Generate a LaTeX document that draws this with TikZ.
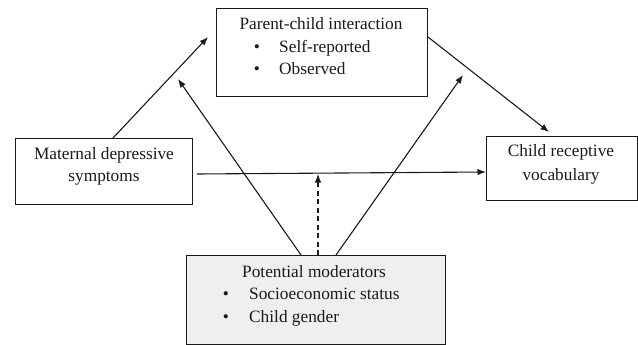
\documentclass[tikz,border=0pt]{standalone}
\usepackage{fontspec}
\setmainfont{Liberation Serif}
\usetikzlibrary{arrows.meta}
\definecolor{boxgray}{HTML}{EFEFEF}
\definecolor{ink}{HTML}{1A1A1A}
\tikzset{
  box/.style={draw=ink, line width=1pt, inner sep=0pt, anchor=north west},
  txt/.style={font=\fontsize{17.3}{21}\selectfont, text=ink, inner sep=0pt, anchor=base},
  txtl/.style={txt, anchor=base west},
  arr/.style={draw=ink, line width=1.1pt, -{Latex[length=8.5pt,width=6.5pt]}},
}
\begin{document}
\begin{tikzpicture}[x=1pt,y=-1pt]
\useasboundingbox (0,0) rectangle (638,345);
% boxes
\node[box, minimum width=211pt, minimum height=88pt] (top) at (216,8) {};
\node[box, minimum width=177pt, minimum height=66pt] (left) at (15,138) {};
\node[box, minimum width=151pt, minimum height=64pt] (right) at (486,136) {};
\node[box, fill=boxgray, minimum width=259pt, minimum height=89pt] (bot) at (186,255) {};
% top box text
\node[txt] (t1) at (321,30) {Parent-child interaction};
\node[txt] (t2b) at (257,53) {•};
\node[txtl] (t2) at (279,53) {Self-reported};
\node[txt] (t3b) at (257,75) {•};
\node[txtl] (t3) at (279,75) {Observed};
% left box text
\node[txt] (l1) at (104,159) {Maternal depressive};
\node[txt] (l2) at (104,182) {symptoms};
% right box text
\node[txt] (r1) at (561,157) {Child receptive};
\node[txt] (r2) at (561,180) {vocabulary};
% bottom box text
\node[txt] (b1) at (314,277) {Potential moderators};
\node[txt] (b2b) at (226,299) {•};
\node[txtl] (b2) at (249,299) {Socioeconomic status};
\node[txt] (b3b) at (226,322) {•};
\node[txtl] (b3) at (249,322) {Child gender};
% connector end points
\coordinate (a1s) at ([xshift=98pt]left.north west);
\coordinate (a1e) at (208,37);
\coordinate (a2s) at ([yshift=-29pt]top.north east);
\coordinate (a2e) at (549,132);
\coordinate (a3s) at ([xshift=4pt,yshift=-36pt]left.north east);
\coordinate (a3e) at ([yshift=-36pt]right.north west);
\coordinate (a4s) at ([xshift=115pt]bot.north west);
\coordinate (a4e) at (178,79);
\coordinate (a5s) at ([xshift=150pt]bot.north west);
\coordinate (a5e) at (463,75);
\coordinate (a6s) at ([xshift=132pt]bot.north west);
\coordinate (a6e) at (318,174);
% connectors
\draw[arr] (a1s) -- (a1e);
\draw[arr] (a2s) -- (a2e);
\draw[arr] (a3s) -- (a3e);
\draw[arr] (a4s) -- (a4e);
\draw[arr] (a5s) -- (a5e);
\draw[arr, dash pattern=on 5pt off 3.5pt] (a6s) -- (a6e);
\end{tikzpicture}
\end{document}
